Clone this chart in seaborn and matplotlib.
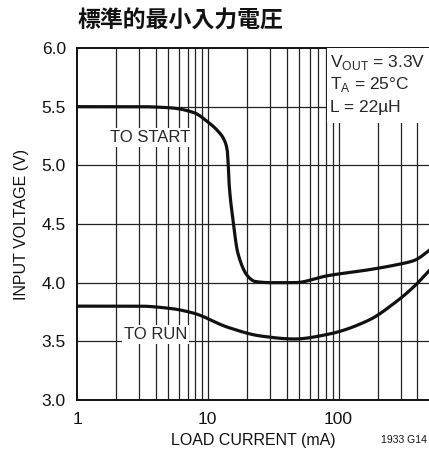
import matplotlib
matplotlib.use("Agg")
import matplotlib.pyplot as plt
import matplotlib.patches as mpatches
import matplotlib.ticker as mticker
import seaborn as sns
import pandas as pd
import numpy as np

# Minimum input voltage vs. load current
start_current = [1, 3, 5.2, 7.8, 10, 12, 13.3, 14.2, 14.5, 15.6, 17, 20.4, 23, 30.5, 46, 83, 170, 270, 380, 500]
start_voltage = [5.50, 5.50, 5.49, 5.45, 5.37, 5.29, 5.22, 5.10, 4.87, 4.53, 4.25, 4.05, 4.01, 4.00, 4.00, 4.06, 4.11, 4.15, 4.19, 4.28]

run_current = [1, 3, 5.2, 7.8, 14.2, 25.5, 46, 83, 170, 270, 380, 500]
run_voltage = [3.80, 3.80, 3.78, 3.74, 3.62, 3.545, 3.52, 3.56, 3.68, 3.83, 3.97, 4.11]

x_ticks = [1, 10, 100]
x_ticklabels = ["1", "10", "100"]
y_ticks = [3.0, 3.5, 4.0, 4.5, 5.0, 5.5, 6.0]

title = "標準的最小入力電圧"
x_label = "LOAD CURRENT (mA)"
y_label = "INPUT VOLTAGE (V)"
conditions = [r"V$_{\mathregular{OUT}}$ = 3.3V", r"T$_{\mathregular{A}}$ = 25°C", "L = 22µH"]
footnote = "1933 G14"

sns.set_style("white")
plt.rcParams["font.family"] = ["Liberation Sans", "DejaVu Sans"]
plt.rcParams["mathtext.fontset"] = "custom"
plt.rcParams["mathtext.rm"] = "Liberation Sans"

fig = plt.figure(figsize=(4.29, 4.76), dpi=100)
ax = fig.add_axes([77 / 429, 1 - 400 / 476, 353 / 429, 352 / 476])

df = pd.concat([
    pd.DataFrame({"current": start_current, "voltage": start_voltage, "curve": "start"}),
    pd.DataFrame({"current": run_current, "voltage": run_voltage, "curve": "run"}),
])


def smooth(xs, ys, n=400):
    """Monotone cubic (PCHIP) interpolation in log-x space."""
    lx = np.log10(xs)
    ys = np.asarray(ys, float)
    grid = np.linspace(lx[0], lx[-1], n)
    h = np.diff(lx)
    d = np.diff(ys) / h
    m = np.zeros(len(lx))
    for i in range(1, len(lx) - 1):
        if d[i - 1] * d[i] > 0:
            w1 = 2 * h[i] + h[i - 1]
            w2 = h[i] + 2 * h[i - 1]
            m[i] = (w1 + w2) / (w1 / d[i - 1] + w2 / d[i])
    m[0] = d[0]
    m[-1] = d[-1]
    idx = np.clip(np.searchsorted(lx, grid) - 1, 0, len(h) - 1)
    t = (grid - lx[idx]) / h[idx]
    y0, y1 = ys[idx], ys[idx + 1]
    out = ((2 * t**3 - 3 * t**2 + 1) * y0 + (t**3 - 2 * t**2 + t) * h[idx] * m[idx]
           + (-2 * t**3 + 3 * t**2) * y1 + (t**3 - t**2) * h[idx] * m[idx + 1])
    return 10 ** grid, out


for name in ("start", "run"):
    sub = df[df.curve == name]
    xs, ys = smooth(np.array(sub.current, float), sub.voltage)
    sns.lineplot(x=xs, y=ys, ax=ax, color="#111111", linewidth=2.3, zorder=4, estimator=None)

ax.set_xscale("log")
ax.set_xlim(1, 500)
ax.set_ylim(3.0, 6.0)

# grid
grid_x = [k * 10 ** e for e in range(0, 3) for k in range(1, 10) if 1 < k * 10 ** e < 500]
for xv in grid_x:
    ax.axvline(xv, color="#222222", linewidth=0.9, zorder=1)
for yv in y_ticks[1:-1]:
    ax.axhline(yv, color="#222222", linewidth=0.9, zorder=1)

ax.set_xticks(x_ticks)
ax.set_xticklabels(x_ticklabels)
ax.xaxis.set_minor_locator(mticker.NullLocator())
ax.set_yticks(y_ticks)
ax.set_yticklabels([f"{v:.1f}" for v in y_ticks])
ax.tick_params(axis="both", length=0, labelsize=12.5, colors="#111111")
ax.tick_params(axis="x", pad=9)
ax.tick_params(axis="y", pad=8)

ax.set_xlabel(x_label, fontsize=11.5, labelpad=4, color="#111111")
ax.set_ylabel(y_label, fontsize=11.5, labelpad=9, color="#111111")

for side in ["left", "bottom", "top", "right"]:
    ax.spines[side].set_color("#111111")
    ax.spines[side].set_linewidth(1.4)

# curve labels on white boxes
box = dict(facecolor="white", edgecolor="none", pad=1.5)
ax.text(3.65, 5.24, "TO START", ha="center", va="center", fontsize=12, bbox=box, zorder=5)
ax.text(3.98, 3.56, "TO RUN", ha="center", va="center", fontsize=12, bbox=box, zorder=5)

# conditions panel
ax.add_patch(mpatches.Rectangle((81, 5.36), 500, 0.64, facecolor="white", edgecolor="none", zorder=3))
for i, line in enumerate(conditions):
    ax.text(86, 5.88 - i * 0.195, line, ha="left", va="center", fontsize=12.5, zorder=6)

fig.text(78 / 429, 1 - 21 / 476, title, ha="left", va="center", fontsize=16.5,
         fontweight="bold", family=["Noto Sans CJK JP", "DejaVu Sans"], color="#111111")
fig.text(427 / 429, 1 - 440 / 476, footnote, ha="right", va="center", fontsize=7.5, color="#111111")

fig.savefig("out.png", dpi=100)
